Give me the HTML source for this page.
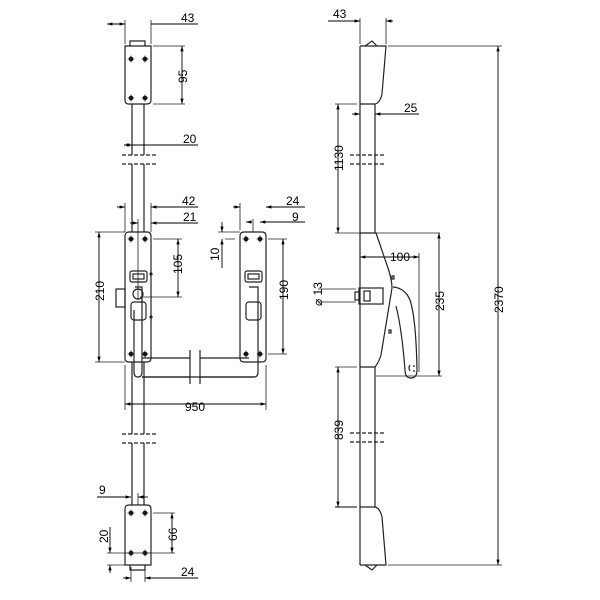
<!DOCTYPE html>
<html><head><meta charset="utf-8"><style>body{margin:0;background:#fff}svg{display:block}text{font-family:"Liberation Sans Narrow","Liberation Sans",sans-serif;font-size:12px;fill:#000}</style></head><body>
<svg width="600" height="600" viewBox="0 0 600 600" xmlns="http://www.w3.org/2000/svg">
<defs>
<marker id="a" viewBox="0 0 10 10" refX="10" refY="5" markerWidth="6" markerHeight="6" orient="auto-start-reverse"><path d="M0,2L10,5L0,8z" fill="#000"/></marker>
<g id="h"><circle r="2" fill="#222"/><path d="M-3.5,0H3.5M0,-3.5V3.5" stroke="#000" stroke-width="0.6"/></g>
</defs>
<g fill="none" stroke="#222" stroke-width="1.2">
<path d="M132,104V155M144,104V155M132,164V232M144,164V232M132,362V434M144,362V434M132,443V505M144,443V505"/>
<path d="M122,155H156M122,164H156M122,434H156M122,443H156" stroke-dasharray="4,2"/>
<path d="M125,46H151V100Q151,104 147,104H129Q125,104 125,100Z"/>
<path d="M130,46V41H145V46"/>
<path d="M129,232H147Q151,232 151,236V358Q151,362 147,362H129Q125,362 125,358V236Q125,232 129,232Z"/>
<path d="M244,232H262Q266,232 266,236V358Q266,362 262,362H244Q240,362 240,358V236Q240,232 244,232Z"/>
<rect x="116" y="289" width="9" height="18"/>
<rect x="130" y="271" width="17" height="11" rx="2"/><rect x="133" y="274" width="11" height="5"/>
<rect x="245" y="271" width="17" height="11" rx="2"/><rect x="248" y="274" width="11" height="5"/>
<rect x="131" y="302" width="15" height="18" rx="3"/><rect x="246" y="302" width="15" height="18" rx="3"/>
<circle cx="138" cy="294" r="5"/>
<path d="M135,287H142V372Q142,377 138,377Q134,377 134,372V310"/>
<path d="M249,287H258V372Q258,377 254,377H142"/>
<path d="M142,358H190M200,358H249M142,377H190M200,377H254"/>
<path d="M190,350V384M200,350V384"/>
<circle cx="151" cy="274" r="1"/><circle cx="151" cy="317" r="1"/>
<path d="M129,505H147Q151,505 151,509V565H125V509Q125,505 129,505Z"/>
<path d="M130,565V570H145V565"/>
</g>
<g fill="none" stroke="#222" stroke-width="0.8">
<use href="#h" x="131" y="59"/><use href="#h" x="145" y="59"/><use href="#h" x="131" y="98"/><use href="#h" x="145" y="98"/>
<use href="#h" x="131" y="239"/><use href="#h" x="145" y="239"/><use href="#h" x="131" y="354"/><use href="#h" x="145" y="354"/>
<use href="#h" x="246" y="239"/><use href="#h" x="260" y="239"/><use href="#h" x="246" y="354"/><use href="#h" x="260" y="354"/>
<use href="#h" x="131" y="513"/><use href="#h" x="145" y="513"/><use href="#h" x="131" y="553"/><use href="#h" x="145" y="553"/>
<path d="M125,20V44M151,20V44M153,46H185M153,104H185M125,203V232M151,203V232M138,219V300M240,203V230M253,219V232M153,239H182M140,297H182M225,239H235M218,232H240M268,239H287M268,354H287M95,232H125M95,362H125M125,365V410M266,365V410M138,493V505M107,553H175M107,565H125M131,567V582M145,567V582M153,513H175"/>
<path d="M360,18V44M386,18V44M335,104H357M388,46H502M388,565H502M335,233H440M335,367H357M419,253V372M376,376H442M318,289H356M318,302H356"/>
</g>
<g fill="none" stroke="#000" stroke-width="0.9">
<path d="M107,24H125M151,24H198" marker-start="url(#a)"/><path d="M107,24H125" marker-end="url(#a)"/>
<path d="M182,46V104" marker-start="url(#a)" marker-end="url(#a)"/>
<path d="M124,145H198" marker-start="url(#a)"/><path d="M124,145H132" marker-end="url(#a)"/>
<path d="M117,207H125" marker-end="url(#a)"/><path d="M198,207H151" marker-end="url(#a)"/>
<path d="M130,223H138" marker-end="url(#a)"/><path d="M198,223H151" marker-end="url(#a)"/>
<path d="M178,239V297" marker-start="url(#a)" marker-end="url(#a)"/>
<path d="M99,232V362" marker-start="url(#a)" marker-end="url(#a)"/>
<path d="M125,404H266" marker-start="url(#a)" marker-end="url(#a)"/>
<path d="M233,207H240" marker-end="url(#a)"/><path d="M305,207H266" marker-end="url(#a)"/>
<path d="M252,222H246" marker-end="url(#a)"/><path d="M305,222H260" marker-end="url(#a)"/>
<path d="M222,222V232" marker-end="url(#a)"/><path d="M222,268V239" marker-end="url(#a)"/>
<path d="M283,239V354" marker-start="url(#a)" marker-end="url(#a)"/>
<path d="M97,497H131" marker-end="url(#a)"/><path d="M148,497H138" marker-end="url(#a)"/>
<path d="M172,513V553" marker-start="url(#a)" marker-end="url(#a)"/>
<path d="M110,527V553" marker-end="url(#a)"/><path d="M110,573V565" marker-end="url(#a)"/>
<path d="M123,578H131" marker-end="url(#a)"/><path d="M198,578H145" marker-end="url(#a)"/>
<path d="M328,21H360" marker-end="url(#a)"/><path d="M393,21H386" marker-end="url(#a)"/>
<path d="M352,114H360" marker-end="url(#a)"/><path d="M419,114H375" marker-end="url(#a)"/>
<path d="M498,46V565" marker-start="url(#a)" marker-end="url(#a)"/>
<path d="M338,104V233" marker-start="url(#a)" marker-end="url(#a)"/>
<path d="M338,367V507" marker-start="url(#a)" marker-end="url(#a)"/>
<path d="M360,257H419" marker-start="url(#a)" marker-end="url(#a)"/>
<path d="M439,233V376" marker-start="url(#a)" marker-end="url(#a)"/>
<path d="M335,507H357"/>
</g>
<g fill="none" stroke="#222" stroke-width="1.2">
<path d="M360,46V565"/>
<path d="M375,104V233M375,367V507"/>
<path d="M360,46H386L382,94Q380,103 375,104H360"/>
<path d="M365,46L372,41L377,46"/>
<path d="M360,565H386L382,517Q380,508 375,507H360"/>
<path d="M365,565L372,570L377,565"/>
<path d="M350,155H385M350,164H385M350,433H385M350,442H385" stroke-dasharray="4,2"/>
<path d="M360,233H376L388,268Q392,280 392,288L381,355Q379,362 375,367H360"/>
<rect x="359" y="288" width="24" height="16"/><rect x="355" y="292" width="4" height="8"/><rect x="364" y="291" width="6" height="10"/>
<path d="M393,287Q405,288 410,300Q416,318 417,370Q417,378 411,378Q405,378 405,370Q402,330 396,306"/>
<path d="M392,276h2v3h-2zM389,330h2v3h-2z"/>
<path d="M410,365q-2,3 0,6M414,365v2M414,370v2"/>
</g>
<g>
<text x="181" y="22">43</text>
<text x="183" y="143">20</text>
<text x="182" y="205">42</text>
<text x="183" y="221">21</text>
<text x="286" y="205">24</text>
<text x="292" y="221">9</text>
<text x="185" y="411">950</text>
<text x="99" y="494">9</text>
<text x="181" y="576">24</text>
<text x="333" y="18">43</text>
<text x="404" y="112">25</text>
<text x="390" y="261">100</text>
<g transform="rotate(-90)">
<text x="-83" y="187">95</text>
<text x="-274" y="182">105</text>
<text x="-301" y="104">210</text>
<text x="-261" y="219">10</text>
<text x="-300" y="288">190</text>
<text x="-541" y="177">66</text>
<text x="-543" y="108">20</text>
<text x="-171" y="343">1130</text>
<text x="-440" y="343">839</text>
<text x="-311" y="444">235</text>
<text x="-313" y="503">2370</text>
<text x="-306" y="322">⌀ 13</text>
</g>
</g>
</svg>
</body></html>
